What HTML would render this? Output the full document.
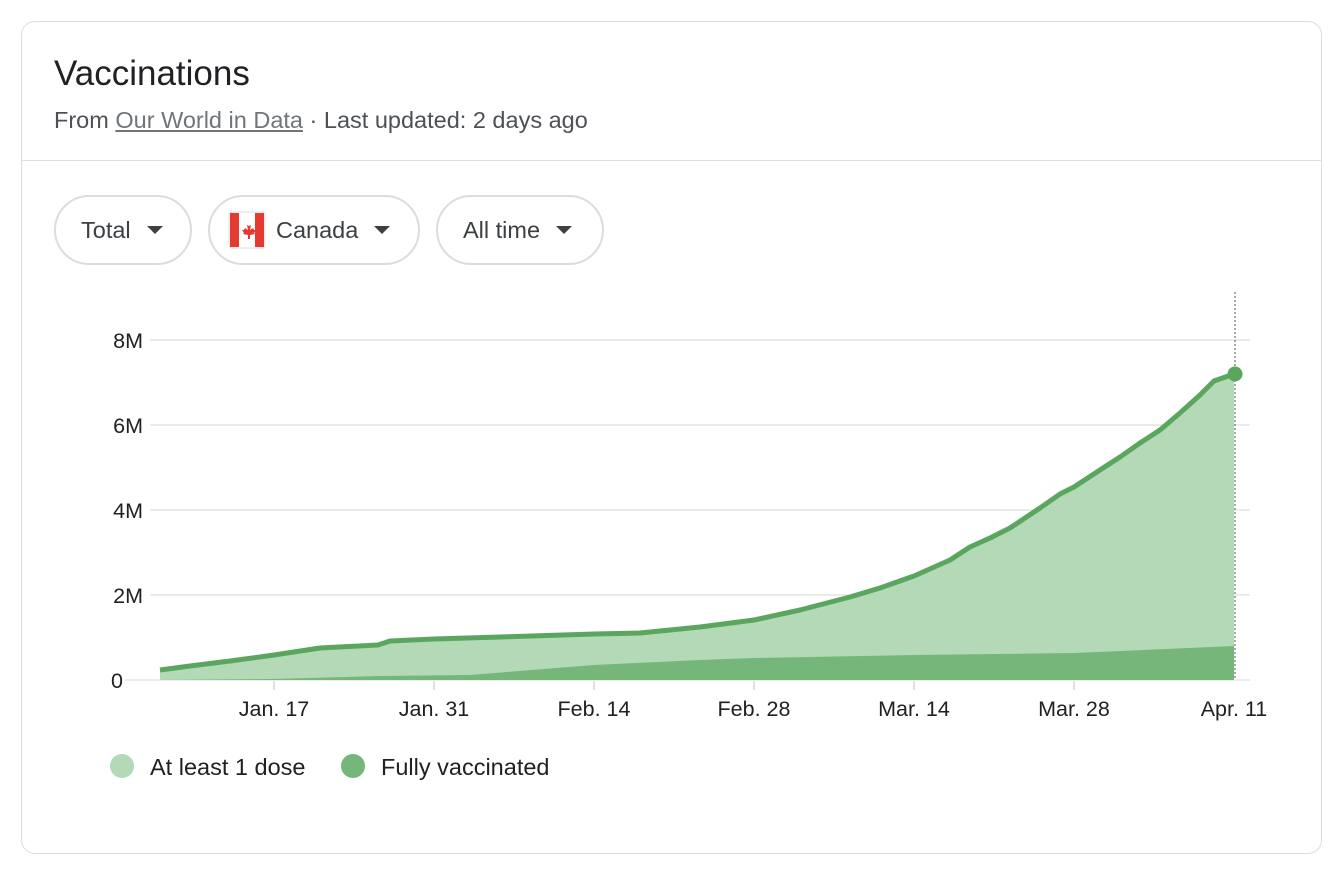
<!DOCTYPE html><html><head><style>
body{margin:0;background:#fff;font-family:"Liberation Sans",Arial,sans-serif;width:1344px;height:870px;overflow:hidden}
.card{position:absolute;left:21px;top:21px;width:1301px;height:833px;border:1px solid #dadce0;border-radius:14px;box-sizing:border-box}
.t{position:absolute;left:54px;top:54px;font-size:35px;color:#202124}
.s{position:absolute;left:54px;top:107px;font-size:23.5px;color:#4d5156}
.s u{color:#70757a}
.hr{position:absolute;left:22px;top:160px;width:1300px;height:1px;background:#e0e0e0}
.b{position:absolute;top:195px;height:70px;border:2px solid #dadce0;border-radius:36px;box-sizing:border-box;font-size:23.5px;color:#3c4043;display:flex;align-items:center}
.ar{display:inline-block;width:0;height:0;border-left:8px solid transparent;border-right:8px solid transparent;border-top:8px solid #3c4043;margin-left:16px}
</style></head><body>
<div class="card"></div>
<div class="t">Vaccinations</div>
<div class="s">From <u>Our World in Data</u> · Last updated: 2 days ago</div>
<div class="hr"></div>
<div class="b" style="left:54px;width:138px;padding-left:25px">Total<span class="ar"></span></div>
<div class="b" style="left:208px;width:212px;padding-left:18px"><svg width="38" height="38" viewBox="0 0 38 38" style="margin-right:10px"><rect x="1" y="1" width="36" height="36" rx="3" fill="#fff" stroke="#ddd"/><rect x="2" y="2" width="9" height="34" fill="#e53a2f"/><rect x="27" y="2" width="9" height="34" fill="#e53a2f"/><path d="M19 11 l2 4 2-1-1 5 3-2 1 2 2 0-2 3 1 1-5 1v4h-2v-4l-5-1 1-1-2-3 2 0 1-2 3 2-1-5 2 1z" fill="#e53a2f"/></svg>Canada<span class="ar"></span></div>
<div class="b" style="left:436px;width:168px;padding-left:25px">All time<span class="ar"></span></div>
<svg width="1344" height="870" style="position:absolute;left:0;top:0">
<g stroke="#ebebeb" stroke-width="2"><line x1="150" y1="340" x2="1250" y2="340"/><line x1="150" y1="425" x2="1250" y2="425"/><line x1="150" y1="510" x2="1250" y2="510"/><line x1="150" y1="595" x2="1250" y2="595"/><line x1="125" y1="680" x2="1250" y2="680"/></g>
<g stroke="#e0e0e0" stroke-width="2"><line x1="274" y1="681" x2="274" y2="690"/><line x1="434" y1="681" x2="434" y2="690"/><line x1="594" y1="681" x2="594" y2="690"/><line x1="754" y1="681" x2="754" y2="690"/><line x1="914" y1="681" x2="914" y2="690"/><line x1="1074" y1="681" x2="1074" y2="690"/></g>
<g font-size="21.5" fill="#202124" text-anchor="end"><text x="143" y="348">8M</text><text x="143" y="433">6M</text><text x="143" y="518">4M</text><text x="143" y="603">2M</text><text x="123" y="688">0</text></g>
<g font-size="21.5" fill="#202124" text-anchor="middle"><text x="274" y="716">Jan. 17</text><text x="434" y="716">Jan. 31</text><text x="594" y="716">Feb. 14</text><text x="754" y="716">Feb. 28</text><text x="914" y="716">Mar. 14</text><text x="1074" y="716">Mar. 28</text><text x="1234" y="716">Apr. 11</text></g>
<path d="M160 670 L190 666 230 661 274 655 320 648 378 645 390 641 434 639 500 637 594 634 640 633 700 627 754 620 800 610 850 597 880 588 914 576 950 560 970 547 990 538 1010 528 1040 508 1060 494 1074 487 1100 470 1120 457 1140 443 1160 430 1180 413 1200 395 1214 381 1234 374 L1234 680 160 680Z" fill="#b3d9b6"/>
<path d="M160 680 L274 679 380 676 470 675 594 665 700 660 754 658 914 655 1074 653 1234 646 L1234 680Z" fill="#75b67a"/>
<path d="M160 670 L190 666 230 661 274 655 320 648 378 645 390 641 434 639 500 637 594 634 640 633 700 627 754 620 800 610 850 597 880 588 914 576 950 560 970 547 990 538 1010 528 1040 508 1060 494 1074 487 1100 470 1120 457 1140 443 1160 430 1180 413 1200 395 1214 381 1234 374" fill="none" stroke="#5aa65f" stroke-width="5" stroke-linejoin="round"/>
<line x1="1235" y1="292" x2="1235" y2="680" stroke="#555" stroke-width="1" stroke-dasharray="2,2"/>
<circle cx="1235" cy="374" r="7.5" fill="#5aa65f"/>
<circle cx="122" cy="766" r="12" fill="#b3d9b6"/><circle cx="353" cy="766" r="12" fill="#75b67a"/>
<g font-size="23.5" fill="#202124"><text x="150" y="775">At least 1 dose</text><text x="381" y="775">Fully vaccinated</text></g>
</svg>
</body></html>
